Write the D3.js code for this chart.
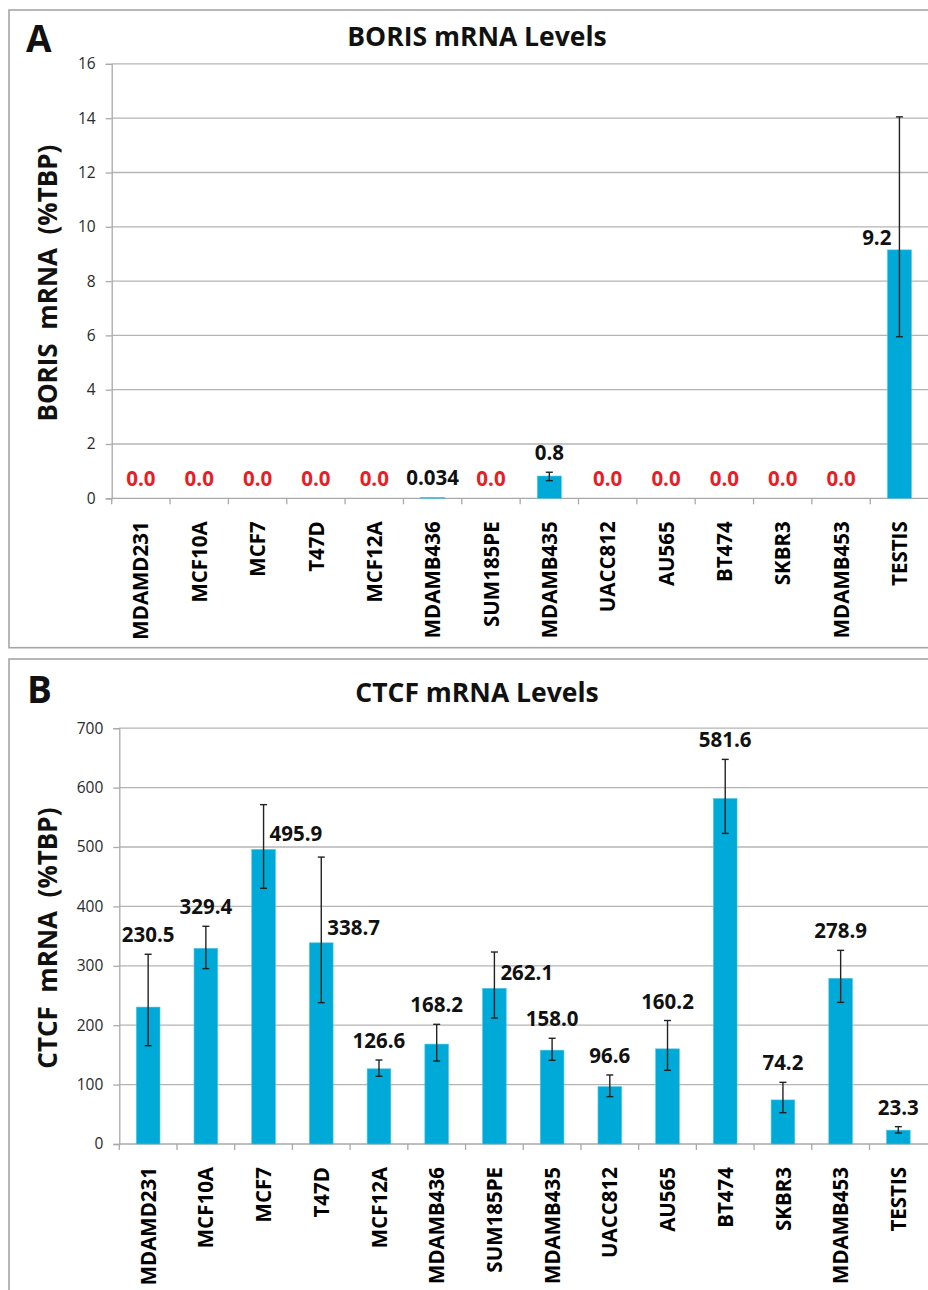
<!DOCTYPE html>
<html>
<head>
<meta charset="utf-8">
<script src="https://cdn.jsdelivr.net/npm/d3@7/dist/d3.min.js"></script>
<style>
  html, body { margin: 0; padding: 0; background: #fff; }
  svg text { font-family: "Open Sans", "DejaVu Sans", sans-serif; }
</style>
</head>
<body>
<svg id="chart" width="928" height="1290"></svg>
<script>
// ---------------- DATA ----------------
const categories = ["MDAMD231","MCF10A","MCF7","T47D","MCF12A","MDAMB436","SUM185PE",
                    "MDAMB435","UACC812","AU565","BT474","SKBR3","MDAMB453","TESTIS"];

// Panel A: BORIS mRNA (%TBP)
const borisValues  = [0, 0, 0, 0, 0, 0.034, 0, 0.82, 0, 0, 0, 0, 0, 9.15];
const borisErrHigh = [null, null, null, null, null, null, null, 0.96, null, null, null, null, null, 14.05];
const borisErrLow  = [null, null, null, null, null, null, null, 0.65, null, null, null, null, null, 5.95];
const borisLabels  = ["0.0","0.0","0.0","0.0","0.0","0.034","0.0","0.8","0.0","0.0","0.0","0.0","0.0","9.2"];
const borisTicks   = [0, 2, 4, 6, 8, 10, 12, 14, 16];

// Panel B: CTCF mRNA (%TBP)
const ctcfValues  = [230.5, 329.4, 495.9, 338.7, 126.6, 168.2, 262.1, 158.0, 96.6, 160.2, 581.6, 74.2, 278.9, 23.3];
const ctcfErrHigh = [319.4, 366.5, 571.3, 483.0, 141.4, 201.5, 323.2, 178.0, 116.2, 207.9, 647.5, 103.8, 326.0, 29.2];
const ctcfErrLow  = [165.5, 295.2, 430.5, 237.9, 114.0, 139.7, 212.1, 140.9, 79.7, 124.0, 522.9, 52.7, 238.4, 18.5];
const ctcfLabels  = ["230.5","329.4","495.9","338.7","126.6","168.2","262.1","158.0","96.6","160.2","581.6","74.2","278.9","23.3"];
const ctcfTicks   = [0, 100, 200, 300, 400, 500, 600, 700];

// ---------------- STYLE ----------------
const BAR = "#00AAD8";
const BAR_EDGE = "#4FC3E6";
const GRID = "#b4b4b4";
const AXIS = "#a9a9a9";
const BORDER = "#a6a6a6";

const svg = d3.select("#chart");

function panel(cfg) {
  const g = svg.append("g");
  // panel border
  g.append("rect")
    .attr("x", cfg.box[0]).attr("y", cfg.box[1])
    .attr("width", cfg.box[2]).attr("height", cfg.box[3])
    .attr("fill", "none").attr("stroke", BORDER).attr("stroke-width", 1.6);

  const x = d3.scaleBand().domain(categories).range(cfg.xRange).paddingInner(0).paddingOuter(0);
  const y = d3.scaleLinear().domain(cfg.yDomain).range(cfg.yRange);
  const bw = x.bandwidth() * 0.41;
  const cx = c => x(c) + x.bandwidth() / 2;

  // gridlines
  g.append("g").selectAll("line").data(cfg.ticks.filter(t => t !== 0)).join("line")
    .attr("x1", cfg.xRange[0]).attr("x2", cfg.xRange[1] + 2)
    .attr("y1", d => y(d)).attr("y2", d => y(d))
    .attr("stroke", GRID).attr("stroke-width", 1.3);

  // y axis
  const yAxis = d3.axisLeft(y).tickValues(cfg.ticks).tickSize(6).tickPadding(10).tickFormat(d3.format("d"));
  const ya = g.append("g").attr("transform", `translate(${cfg.xRange[0]},0)`).call(yAxis);
  ya.select(".domain").attr("stroke", AXIS).attr("stroke-width", 1.3);
  ya.selectAll(".tick line").attr("stroke", AXIS).attr("stroke-width", 1.3);
  ya.selectAll(".tick text").attr("font-size", 15.5).attr("fill", "#2a2a2a")
    .attr("font-family", "'Open Sans', sans-serif");

  // x axis (ticks at band boundaries)
  const xa = g.append("g");
  xa.append("line").attr("x1", cfg.xRange[0]).attr("x2", cfg.xRange[1] + 2)
    .attr("y1", y(0)).attr("y2", y(0)).attr("stroke", AXIS).attr("stroke-width", 1.3);
  xa.selectAll("line.tk").data(categories).join("line").attr("class", "tk")
    .attr("x1", d => x(d)).attr("x2", d => x(d))
    .attr("y1", y(0)).attr("y2", y(0) + 6)
    .attr("stroke", AXIS).attr("stroke-width", 1.3);
  xa.selectAll("text").data(categories).join("text")
    .attr("transform", d => `translate(${cx(d)},${y(0) + 23}) rotate(-90)`)
    .attr("text-anchor", "end").attr("dy", "0.37em")
    .attr("font-size", 20.5).attr("font-weight", 700).attr("fill", "#000")
    .text(d => d);

  const rows = categories.map((c, i) => ({
    c, v: cfg.values[i], hi: cfg.errHigh[i], lo: cfg.errLow[i], label: cfg.labels[i]
  }));

  // bars
  g.append("g").selectAll("rect").data(rows.filter(r => r.v > 0)).join("rect")
    .attr("x", r => cx(r.c) - bw / 2).attr("width", bw)
    .attr("y", r => y(r.v)).attr("height", r => Math.max(0.9, y(0) - y(r.v)))
    .attr("fill", BAR).attr("stroke", BAR_EDGE).attr("stroke-width", 0.6);

  // error bars
  const eb = g.append("g").attr("stroke", "#222").attr("stroke-width", 1.4);
  rows.filter(r => r.hi != null).forEach(r => {
    const xc = cx(r.c);
    eb.append("line").attr("x1", xc).attr("x2", xc).attr("y1", y(r.hi)).attr("y2", y(r.lo));
    eb.append("line").attr("x1", xc - 3.5).attr("x2", xc + 3.5).attr("y1", y(r.hi)).attr("y2", y(r.hi));
    eb.append("line").attr("x1", xc - 3.5).attr("x2", xc + 3.5).attr("y1", y(r.lo)).attr("y2", y(r.lo));
  });

  // data labels
  g.append("g").selectAll("text").data(rows).join("text")
    .attr("font-size", 20.5).attr("font-weight", 700)
    .attr("fill", r => (r.v === 0 ? "#ED1C24" : "#111"))
    .each(function (r) {
      const t = d3.select(this);
      const xc = cx(r.c);
      if (cfg.sideRight.includes(r.c)) {
        t.attr("x", xc + 6).attr("y", y(r.v) - 8).attr("text-anchor", "start");
      } else if (cfg.sideLeft.includes(r.c)) {
        t.attr("x", xc - 8).attr("y", y(r.v) - 5).attr("text-anchor", "end");
      } else {
        const top = r.hi != null ? r.hi : r.v;
        t.attr("x", xc).attr("y", y(top) - 12).attr("text-anchor", "middle");
      }
    })
    .text(r => r.label);

  // titles
  g.append("text").attr("x", cfg.letterPos[0]).attr("y", cfg.letterPos[1])
    .attr("font-size", 37).attr("font-weight", 700).attr("fill", "#111").text(cfg.letter);
  g.append("text").attr("x", 477).attr("y", cfg.titleY).attr("text-anchor", "middle")
    .attr("font-size", 26.5).attr("font-weight", 700).attr("fill", "#111").text(cfg.title);
  g.append("text")
    .attr("transform", `translate(57,${(cfg.yRange[0] + cfg.yRange[1]) / 2 + 2}) rotate(-90)`)
    .attr("text-anchor", "middle").attr("font-size", 26).attr("font-weight", 700)
    .attr("fill", "#111").style("white-space", "pre").text(cfg.yTitle);
}

panel({
  box: [9, 10, 940, 637.7],
  xRange: [111.7, 928.6], yRange: [498.3, 63.9], yDomain: [0, 16],
  ticks: borisTicks, values: borisValues, errHigh: borisErrHigh, errLow: borisErrLow,
  labels: borisLabels, sideRight: [], sideLeft: ["TESTIS"],
  letter: "A", letterPos: [26, 52.3], title: "BORIS mRNA Levels", titleY: 46,
  yTitle: "BORIS  mRNA  (%TBP)"
});

panel({
  box: [9, 659, 940, 700],
  xRange: [119.3, 927.2], yRange: [1144, 728.2], yDomain: [0, 700],
  ticks: ctcfTicks, values: ctcfValues, errHigh: ctcfErrHigh, errLow: ctcfErrLow,
  labels: ctcfLabels, sideRight: ["MCF7", "T47D", "SUM185PE"], sideLeft: [],
  letter: "B", letterPos: [27, 702.7], title: "CTCF mRNA Levels", titleY: 701.7,
  yTitle: "CTCF  mRNA  (%TBP)"
});
</script>
</body>
</html>
